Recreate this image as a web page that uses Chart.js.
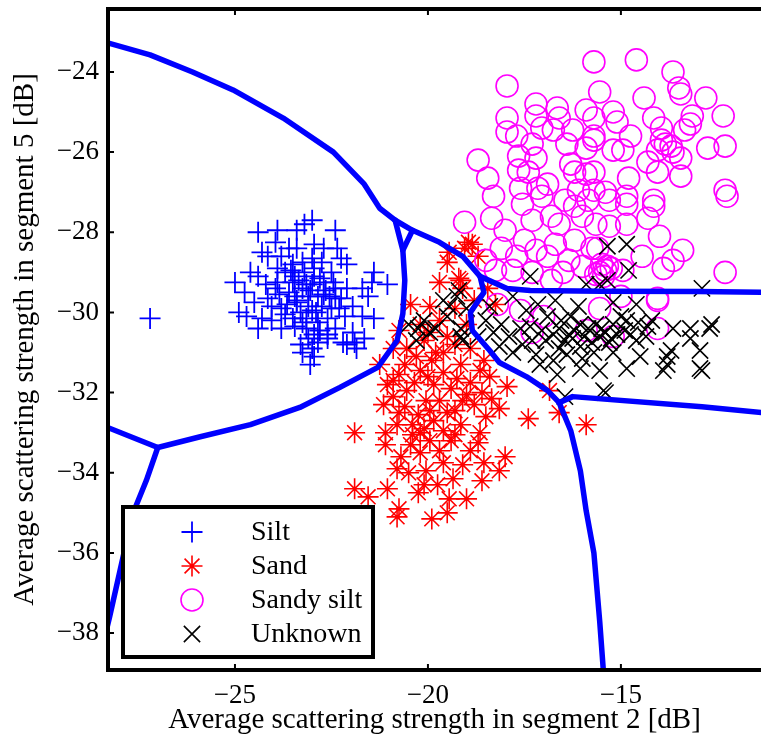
<!DOCTYPE html>
<html>
<head>
<meta charset="utf-8">
<script src="https://cdn.jsdelivr.net/npm/chart.js@4"></script>
<style>
  html, body { margin: 0; padding: 0; background: #fff; }
  #wrap { width: 761px; height: 749px; }
</style>
</head>
<body>
<div id="wrap"><canvas id="chart" width="761" height="749"></canvas></div>
<script>
// ── Axis ticks ──
var xTicks = [-25, -20, -15];
var yTicks = [-24, -26, -28, -30, -32, -34, -36, -38];

// ── Silt (+) ──
var siltX = [-27.2, -24.4, -23.9, -23.4, -23.0, -23.2, -22.4, -25.0, -24.75, -24.9, -24.7, -24.3, -24.4, -24.05,
  -21.4, -21.45, -21.05, -21.4, -21.65, -22.95, -23.05, -21.9, -22.2, -21.95, -24.3, -24.15, -23.8, -23.9,
  -23.5, -23.4, -22.95, -22.7, -22.35, -22.25, -22.1, -24.2, -24.4, -23.95, -23.6, -23.25, -23.0, -22.7,
  -22.4, -22.25, -23.4, -23.1, -22.75, -22.5, -23.8, -24.05, -24.5, -23.5, -23.15, -22.85, -22.6, -22.4,
  -22.95, -23.1, -23.15, -23.8, -23.45, -23.7, -23.45, -23.2, -22.95, -22.75, -23.0, -23.25, -23.6, -23.95,
  -22.5, -22.4, -22.85, -23.1, -23.45, -22.1, -21.95, -21.7, -21.55, -22.15, -21.7, -23.5, -23.9, -24.15,
  -22.6, -22.1, -21.85, -23.0, -23.25, -22.65, -23.3, -22.95, -23.65, -22.8, -24.6,
  -23.35, -23.05, -22.8, -22.55, -23.7, -23.25, -22.9, -23.55, -22.3, -23.85,
  -23.15, -22.7, -23.4, -22.45, -23.0, -22.85, -23.3, -22.6];
var siltY = [-30.15, -28.0, -27.95, -27.95, -27.7, -27.8, -27.95, -29.25, -29.5, -30.0, -30.1, -30.15, -30.4, -30.2,
  -29.0, -29.25, -29.3, -30.15, -30.65, -31.1, -31.3, -30.75, -30.75, -30.5, -28.5, -28.6, -28.6, -28.9,
  -28.8, -28.4, -28.3, -28.4, -28.4, -28.65, -28.8, -29.3, -29.1, -29.4, -29.5, -29.4, -29.3, -29.25,
  -29.4, -29.65, -29.75, -29.85, -29.85, -29.9, -29.9, -29.85, -29.75, -30.15, -30.15, -30.25, -30.15, -30.4,
  -30.55, -30.65, -30.4, -30.4, -30.35, -29.0, -29.1, -29.0, -28.9, -28.75, -28.65, -28.75, -28.4, -28.25,
  -29.0, -29.65, -29.6, -29.6, -29.6, -29.4, -29.85, -29.4, -29.6, -30.1, -30.1, -29.25, -29.25, -29.65,
  -30.65, -30.8, -30.9, -30.9, -31.0, -29.45, -30.0, -29.1, -29.8, -30.45, -29.0,
  -29.2, -29.45, -29.15, -29.6, -30.05, -30.25, -30.0, -28.95, -29.9, -29.55,
  -29.3, -29.55, -29.7, -29.25, -29.95, -30.75, -30.8, -30.55];

// ── Sand (*) ──
var sandX = [-18.95, -18.85, -19.05, -19.5, -19.7, -19.2, -19.1, -19.15, -18.25, -18.45, -20.45, -19.95, -19.7,
  -20.75, -21.25, -21.05, -20.55, -20.1, -19.6, -19.15, -18.65, -18.4, -20.2, -20.75, -19.85, -19.4,
  -21.9, -21.1, -21.1, -21.9, -21.55, -21.05, -20.75, -20.8, -19.9, -19.5, -19.45, -19.0, -20.25, -20.1,
  -19.35, -18.6, -18.15, -18.0, -18.55, -19.1, -20.05, -20.8, -20.7, -20.2, -19.7, -18.9, -18.7, -19.4,
  -19.95, -20.45, -17.4, -16.85, -16.6, -15.9, -17.95, -18.5, -18.15, -20.55, -20.05, -20.75, -20.4,
  -19.85, -19.5, -19.15, -18.8, -19.1, -19.7, -18.6, -20.9, -20.2, -18.65,
  -20.9, -20.3, -19.9, -20.6, -20.0, -19.5, -19.3, -18.9, -20.35, -20.0, -19.6, -19.25, -18.9, -20.6,
  -20.25, -19.95, -19.3, -19.0, -18.55, -18.35, -20.9, -21.15, -20.8, -19.6, -19.3, -19.6, -19.75,
  -20.5, -20.4, -20.1, -19.8, -20.2, -18.8, -19.3, -19.0, -19.45, -18.7];
var sandY = [-28.25, -28.3, -28.4, -28.75, -29.25, -29.15, -29.4, -29.2, -29.8, -29.4, -29.8, -29.85, -30.2,
  -30.45, -31.3, -31.8, -30.9, -30.7, -31.0, -31.3, -31.45, -31.6, -31.45, -31.55, -31.8, -31.9,
  -33.0, -33.0, -33.3, -34.4, -34.6, -34.4, -34.9, -35.1, -35.15, -35.0, -34.65, -34.65, -34.5, -34.3,
  -34.15, -34.2, -33.95, -33.6, -33.75, -33.8, -33.95, -33.9, -33.6, -33.5, -33.45, -33.45, -33.25, -33.2,
  -33.2, -33.3, -32.65, -31.95, -32.5, -32.8, -31.85, -32.6, -32.4, -31.95, -32.2, -32.5, -32.8,
  -32.7, -32.5, -32.8, -32.3, -32.2, -32.2, -32.0, -32.1, -33.0, -33.0,
  -30.9, -31.1, -31.2, -31.3, -30.5, -30.6, -30.8, -30.9, -31.75, -31.6, -31.5, -31.65, -31.75, -32.35,
  -32.55, -32.45, -32.45, -32.05, -31.2, -32.15, -31.7, -32.3, -32.8, -32.95, -33.05, -33.75, -34.3,
  -34.0, -33.05, -32.9, -31.0, -30.3, -29.7, -29.9, -30.3, -28.5, -28.6];

// ── Sandy silt (o) ──
var sandySiltX = [-17.95, -15.7, -15.55, -17.2, -16.65, -17.95, -17.2, -16.6, -15.9, -15.7, -17.95, -17.7, -17.05,
  -16.75, -16.25, -15.7, -17.3, -17.2, -18.7, -18.45, -17.65, -17.4, -16.3, -16.2, -15.9, -17.6, -17.15,
  -16.9, -16.1, -15.7, -14.6, -13.65, -13.5, -13.45, -12.8, -12.35, -14.4, -15.2, -14.15, -13.15, -13.2,
  -15.1, -14.75, -15.7, -13.95, -13.35, -13.95, -13.85, -13.7, -14.05, -13.65, -13.45, -12.75, -12.3,
  -15.2, -14.95, -14.3, -14.05, -13.45, -14.8, -15.7, -12.3, -15.4, -14.85, -14.15, -19.05, -18.35, -18.0,
  -17.55, -17.05, -16.45, -16.2, -15.85, -15.65, -15.75, -16.2, -16.35, -16.7, -16.8, -17.3, -17.2, -17.7,
  -18.1, -18.5, -18.25, -17.8, -17.3, -16.8, -17.5, -16.0, -15.65, -12.25, -15.3, -14.85, -14.15, -14.3,
  -14.85, -15.3, -14.0, -13.4, -13.65, -13.9, -14.45, -14.95, -12.3, -15.6, -14.05, -15.45, -18.2, -17.6,
  -17.3, -14.05, -14.05, -15.0, -15.55, -15.2, -15.9, -17.0, -15.5, -15.4, -15.35, -15.55, -15.25,
  -16.6, -16.0, -16.9, -16.5, -18.3, -16.4, -15.9, -17.65];
var sandySiltY = [-24.35, -23.75, -24.5, -24.8, -24.9, -25.15, -25.1, -25.15, -24.95, -25.15, -25.5, -25.6, -25.4,
  -25.45, -25.45, -25.6, -25.8, -26.15, -26.2, -26.65, -26.45, -26.5, -26.3, -26.5, -26.55, -26.9, -26.9,
  -26.8, -26.95, -26.95, -23.7, -24.0, -24.4, -24.55, -24.65, -25.1, -24.65, -25.0, -25.15, -25.1, -25.3,
  -25.25, -25.6, -25.7, -25.4, -25.45, -25.7, -25.8, -25.85, -25.95, -26.0, -26.15, -25.9, -25.85,
  -25.95, -25.95, -26.25, -26.5, -26.6, -26.65, -26.5, -26.95, -27.0, -27.1, -27.2, -27.75, -27.65, -27.95,
  -27.3, -27.1, -27.2, -27.35, -27.2, -27.8, -28.4, -28.2, -28.7, -28.3, -27.6, -27.7, -28.45, -28.6,
  -28.4, -28.7, -28.95, -28.95, -29.0, -29.2, -28.2, -28.85, -29.05, -27.1, -27.2, -27.3, -27.35, -27.65,
  -27.8, -27.85, -28.1, -28.45, -28.7, -28.9, -28.6, -28.95, -29.0, -28.4, -29.65, -29.1, -29.8, -29.95,
  -30.5, -29.7, -30.4, -29.6, -29.9, -30.6, -30.45, -30.1, -28.8, -28.95, -28.85, -29.0, -28.9,
  -27.8, -27.6, -28.6, -29.0, -27.1, -25.8, -25.9, -26.1];

// ── Unknown (x) ──
var unknownX = [-15.35, -14.85, -14.8, -15.35, -12.9, -12.65, -13.2, -17.35, -15.9, -15.55, -12.95, -13.7, -13.8,
  -19.2, -19.6, -20.25, -19.95, -19.15, -19.5, -19.25, -19.45, -20.1, -19.8, -19.15, -19.1, -18.5, -18.3,
  -18.15, -17.8, -17.55, -17.45, -17.15, -16.9, -16.6, -16.3, -16.05, -15.8, -15.55, -15.2, -14.85, -14.6,
  -14.5, -14.85, -15.55, -16.05, -16.75, -17.1, -16.4, -17.3, -16.95, -15.45, -13.9, -13.8, -13.65, -13.2,
  -12.95, -12.7, -12.9, -15.2, -15.7, -16.25, -16.65, -16.45, -15.4,
  -16.2, -15.95, -15.65, -15.4, -15.1, -14.9, -15.3, -15.75, -16.05, -16.45, -16.75, -17.05, -17.6, -17.9,
  -18.1, -16.55, -15.0, -14.55, -14.3, -14.2, -14.35, -17.2, -16.0, -17.8, -18.4, -16.1, -15.2, -14.6,
  -16.7, -20.5, -20.3, -19.0,
  -16.35, -15.85, -15.5, -15.25, -16.6, -17.35, -18.7, -14.75];
var unknownY = [-28.35, -28.3, -28.95, -29.2, -29.4, -30.3, -30.4, -29.1, -29.3, -29.3, -31.4, -30.95, -31.3,
  -29.45, -29.7, -30.4, -30.5, -30.6, -30.1, -29.6, -29.85, -30.2, -30.4, -30.4, -30.7, -30.2, -30.5,
  -30.85, -31.0, -30.8, -29.95, -29.8, -30.1, -30.4, -30.1, -30.3, -30.45, -30.6, -30.3, -30.2, -30.7,
  -31.1, -31.4, -31.45, -31.4, -31.2, -31.3, -31.05, -30.7, -30.7, -31.95, -31.45, -31.1, -30.4, -30.65,
  -30.95, -30.4, -31.45, -31.0, -31.0, -30.65, -31.55, -32.1, -32.0,
  -30.45, -30.6, -30.3, -30.5, -30.55, -30.45, -30.75, -30.75, -30.85, -30.7, -30.55, -30.45, -30.4, -30.6,
  -30.3, -30.2, -30.1, -30.25, -30.35, -30.2, -30.6, -31.05, -31.15, -29.6, -29.85, -29.85, -29.75, -29.8,
  -29.7, -30.3, -30.7, -29.9,
  -30.55, -30.4, -30.4, -30.65, -30.9, -30.35, -30.6, -30.55];

// ── Decision boundaries ──
var bndTopX = [-28.3, -27.2, -26.1, -25.05, -23.75, -22.45, -21.65, -21.25, -20.85];
var bndTopY = [-23.275, -23.575, -24.0, -24.45, -25.15, -26.0, -26.8, -27.4, -27.7];
var bndSiltX = [-20.85, -20.65, -20.6, -20.65, -20.8, -21.3, -22.28, -23.32, -24.6, -25.9, -27.0, -28.3];
var bndSiltY = [-27.7, -28.45, -29.2, -30.03, -30.7, -31.37, -31.87, -32.37, -32.8, -33.1, -33.37, -32.87];
var bndLowX = [-27.0, -27.3, -27.65, -28.25, -28.35];
var bndLowY = [-33.37, -34.2, -35.03, -37.6, -38.0];
var bndLinkX = [-20.85, -20.4, -20.65];
var bndLinkY = [-27.7, -27.95, -28.45];
var bndUpperX = [-20.4, -19.7, -19.1, -18.65, -17.95, -17.35, -15.5, -13.0, -11.3];
var bndUpperY = [-27.95, -28.25, -28.6, -29.1, -29.4, -29.45, -29.47, -29.48, -29.5];
var bndMidX = [-18.65, -18.55, -18.9, -18.85, -18.4, -18.15, -17.45, -16.9, -16.6];
var bndMidY = [-29.1, -29.5, -30.0, -30.45, -30.95, -31.25, -31.6, -31.95, -32.25];
var bndRightX = [-16.6, -16.25, -12.9, -11.3];
var bndRightY = [-32.25, -32.1, -32.35, -32.5];
var bndDownX = [-16.6, -16.3, -16.05, -15.9, -15.7, -15.55, -15.45];
var bndDownY = [-32.25, -32.95, -33.95, -34.95, -36.0, -37.7, -39.0];

var FONT = "'Liberation Serif', 'DejaVu Serif', serif";

function pts(xs, ys) {
    return xs.map(function (x, i) { return { x: x, y: ys[i] }; });
}
function minus(v) {
    return String(v).replace('-', '\u2212');
}

function markerSet(label, xs, ys, style, color, radius, width, order) {
    return {
        label: label,
        data: pts(xs, ys),
        pointStyle: style,
        pointRadius: radius,
        pointHoverRadius: radius,
        pointBorderColor: color,
        pointBackgroundColor: 'rgba(0,0,0,0)',
        pointBorderWidth: width,
        showLine: false,
        order: order
    };
}
function boundary(xs, ys) {
    return {
        label: '_boundary',
        data: pts(xs, ys),
        showLine: true,
        pointRadius: 0,
        borderColor: '#0000ff',
        borderWidth: 5.5,
        borderJoinStyle: 'round',
        borderCapStyle: 'round',
        fill: false,
        tension: 0,
        order: 0
    };
}

var series = [
    markerSet('Silt', siltX, siltY, 'cross', '#0000ff', 10.5, 1.8, 4),
    markerSet('Sand', sandX, sandY, 'star', '#ff0000', 10.5, 1.6, 3),
    markerSet('Sandy silt', sandySiltX, sandySiltY, 'circle', '#ff00ff', 11, 1.6, 2),
    markerSet('Unknown', unknownX, unknownY, 'crossRot', '#000000', 11.5, 1.6, 1)
];

// ── Frame, inward ticks and legend box ──
var framePlugin = {
    id: 'frame',
    afterDraw: function (chart) {
        var ctx = chart.ctx, a = chart.chartArea;
        var xs = chart.scales.x, ys = chart.scales.y;
        ctx.save();
        ctx.strokeStyle = '#000';
        ctx.lineWidth = 4;
        ctx.beginPath();
        ctx.moveTo(a.right + 5, a.top);
        ctx.lineTo(a.left, a.top);
        ctx.lineTo(a.left, a.bottom);
        ctx.lineTo(a.right + 5, a.bottom);
        ctx.stroke();

        ctx.lineWidth = 2;
        ctx.beginPath();
        xTicks.forEach(function (v) {
            var px = xs.getPixelForValue(v);
            ctx.moveTo(px, a.bottom); ctx.lineTo(px, a.bottom - 6);
            ctx.moveTo(px, a.top); ctx.lineTo(px, a.top + 6);
        });
        yTicks.forEach(function (v) {
            var py = ys.getPixelForValue(v);
            ctx.moveTo(a.left, py); ctx.lineTo(a.left + 6, py);
        });
        ctx.stroke();

        // legend
        var box = { x: 123, y: 507, w: 250, h: 150 };
        ctx.fillStyle = '#fff';
        ctx.fillRect(box.x, box.y, box.w, box.h);
        ctx.lineWidth = 4;
        ctx.strokeRect(box.x, box.y, box.w, box.h);
        ctx.font = '28px ' + FONT;
        ctx.textBaseline = 'middle';
        ctx.textAlign = 'left';
        var rows = [532, 566, 600, 634];
        series.forEach(function (ds, i) {
            ctx.strokeStyle = ds.pointBorderColor;
            ctx.fillStyle = 'rgba(0,0,0,0)';
            ctx.lineWidth = ds.pointBorderWidth;
            Chart.helpers.drawPoint(ctx, {
                pointStyle: ds.pointStyle,
                radius: ds.pointRadius,
                rotation: 0,
                borderWidth: ds.pointBorderWidth
            }, 192, rows[i]);
            ctx.fillStyle = '#000';
            ctx.fillText(ds.label, 251, rows[i] + 1);
        });
        ctx.restore();
    }
};

new Chart(document.getElementById('chart'), {
    type: 'scatter',
    data: {
        datasets: [
            boundary(bndTopX, bndTopY),
            boundary(bndSiltX, bndSiltY),
            boundary(bndLowX, bndLowY),
            boundary(bndLinkX, bndLinkY),
            boundary(bndUpperX, bndUpperY),
            boundary(bndMidX, bndMidY),
            boundary(bndRightX, bndRightY),
            boundary(bndDownX, bndDownY)
        ].concat(series)
    },
    options: {
        responsive: false,
        animation: false,
        events: [],
        layout: { autoPadding: false, padding: { top: 9, right: 0, bottom: 0, left: 0 } },
        plugins: {
            legend: { display: false },
            tooltip: { enabled: false }
        },
        scales: {
            x: {
                type: 'linear',
                min: -28.29,
                max: -11.37,
                afterBuildTicks: function (s) { s.ticks = xTicks.map(function (v) { return { value: v }; }); },
                afterFit: function (s) { s.height = 79; s.paddingLeft = 0; s.paddingRight = 0; },
                grid: { display: false, drawTicks: false },
                border: { display: false },
                ticks: {
                    color: '#000',
                    padding: 10,
                    font: { family: FONT, size: 27 },
                    callback: function (v) { return minus(v); }
                },
                title: {
                    display: true,
                    text: 'Average scattering strength in segment 2 [dB]',
                    color: '#000',
                    font: { family: FONT, size: 29 },
                    padding: { top: 0, bottom: 11 }
                }
            },
            y: {
                type: 'linear',
                min: -38.92,
                max: -22.43,
                afterBuildTicks: function (s) { s.ticks = yTicks.map(function (v) { return { value: v }; }); },
                afterFit: function (s) { s.width = 108; s.paddingTop = 0; s.paddingBottom = 0; },
                grid: { display: false, drawTicks: false },
                border: { display: false },
                ticks: {
                    color: '#000',
                    padding: 9,
                    font: { family: FONT, size: 27 },
                    callback: function (v) { return minus(v); }
                },
                title: {
                    display: true,
                    text: 'Average scattering strength in segment 5 [dB]',
                    color: '#000',
                    font: { family: FONT, size: 29 },
                    padding: { top: 8, bottom: 0 }
                }
            }
        }
    },
    plugins: [framePlugin]
});
</script>
</body>
</html>
